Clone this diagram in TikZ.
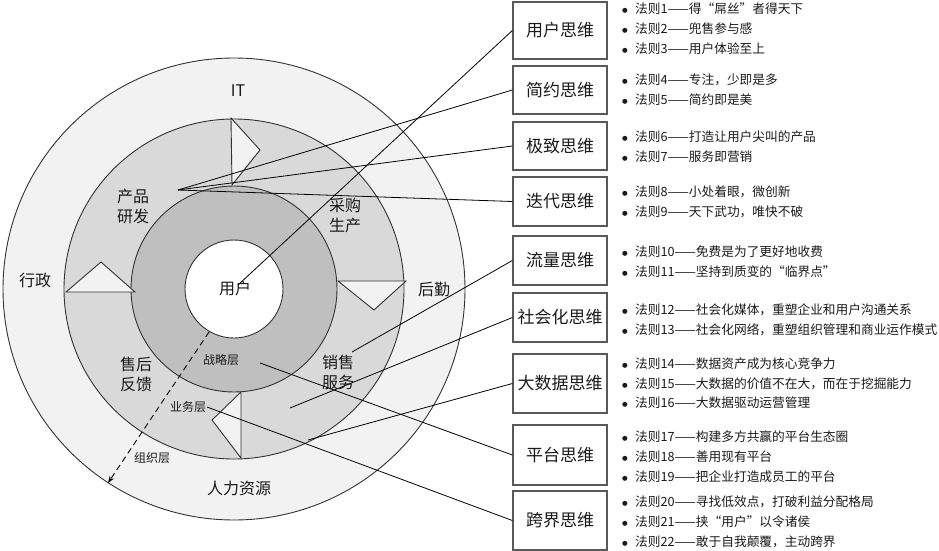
\documentclass[tikz,border=0pt]{standalone}
\usepackage{fontspec}
\setmainfont{Noto Sans CJK SC}
\newfontfamily\bulfont{DejaVu Sans}
\usetikzlibrary{arrows.meta}
\definecolor{ringA}{HTML}{F2F2F2}
\definecolor{ringB}{HTML}{D9D9D9}
\definecolor{ringC}{HTML}{BFBFBF}
\definecolor{edgeC}{HTML}{333333}
\definecolor{boxC}{HTML}{595959}
\definecolor{txtC}{HTML}{1A1A1A}
\tikzset{
  ringedge/.style={draw=edgeC, line width=0.9pt},
  notch/.style={draw=edgeC, line width=0.9pt, fill=ringA, line join=miter},
  biglabel/.style={text=txtC, font=\fontsize{16}{20}\selectfont, align=center, inner sep=0pt},
  smalllabel/.style={text=txtC, font=\fontsize{12}{14}\selectfont, inner sep=0pt},
  thinkbox/.style={draw=boxC, line width=1.3pt, minimum width=94pt, inner sep=0pt, text=txtC, font=\fontsize{17}{20}\selectfont},
  rule/.style={anchor=west, inner sep=0pt, text=txtC, font=\fontsize{12.7}{15}\selectfont},
  link/.style={draw=black, line width=0.8pt}
}
\newcommand{\bul}[1]{\makebox[13pt][l]{\raisebox{1.2pt}{\bulfont\fontsize{6.5}{8}\selectfont ●}}#1}
\begin{document}
\begin{tikzpicture}[x=1pt,y=-1pt]
\useasboundingbox (0,0) rectangle (939,551);
\coordinate (O) at (234,289);
% rings
\path[ringedge, fill=ringA] (O) circle (231);
\path[ringedge, fill=ringB] (O) circle (170);
\path[ringedge, fill=ringC] (O) circle (103);
\path[ringedge, fill=white] (O) circle (49);
% notches of the cycle
\path[notch] (231,118) -- (260,150) -- (232,185) -- cycle;
\path[notch] (338,281) -- (374,310) -- (406,281) -- cycle;
\path[notch] (241,392) -- (212,420) -- (241,458) -- cycle;
\path[notch] (66,292) -- (101,262) -- (135,292) -- cycle;
% dashed arrow
\coordinate (d1) at (209,332);
\coordinate (d2) at (108,483);
\draw[draw=black, line width=0.9pt, dash pattern=on 6pt off 4pt, -{Stealth[length=7pt,width=5pt]}] (d1) -- (d2);
% labels in circle
\node[biglabel] (it) at (238,91) {IT};
\node[biglabel] (cp) at (133,206) {产品\\研发};
\node[biglabel] (cg) at (345,215) {采购\\生产};
\node[biglabel] (xz) at (35,280) {行政};
\node[biglabel] (hq) at (434,289) {后勤};
\node[biglabel] (yh) at (235,288) {用户};
\node[biglabel] (sh) at (136,374) {售后\\反馈};
\node[biglabel] (xs) at (338,372) {销售\\服务};
\node[biglabel] (rl) at (239,488) {人力资源};
\node[smalllabel] (zl) at (221,360) {战略层};
\node[smalllabel] (yw) at (188,407) {业务层};
\node[smalllabel] (zz) at (152,458) {组织层};
% boxes
\node[thinkbox, minimum height=57pt] (b1) at (560,30.5) {用户思维};
\node[thinkbox, minimum height=48pt] (b2) at (560,90) {简约思维};
\node[thinkbox, minimum height=48pt] (b3) at (560,146) {极致思维};
\node[thinkbox, minimum height=49pt] (b4) at (560,201.5) {迭代思维};
\node[thinkbox, minimum height=49pt] (b5) at (560,260.5) {流量思维};
\node[thinkbox, minimum height=49pt] (b6) at (560,317.5) {社会化思维};
\node[thinkbox, minimum height=59pt] (b7) at (560,383.5) {大数据思维};
\node[thinkbox, minimum height=60pt] (b8) at (560,455) {平台思维};
\node[thinkbox, minimum height=59pt] (b9) at (560,520.5) {跨界思维};
% connector endpoints
\coordinate (e1) at (238,285);
\coordinate (e2) at (178,190);
\coordinate (e5) at (352,352);
\coordinate (e6) at (290,408);
\coordinate (e7) at (308,440);
\coordinate (e8) at (260,363);
\coordinate (e9) at (207,407);
\draw[link] (e1) -- (b1.west);
\draw[link] (e2) -- (b2.west);
\draw[link] (e2) -- (b3.west);
\draw[link] (e2) -- (b4.west);
\draw[link] (e5) -- (b5.west);
\draw[link] (e6) -- (b6.west);
\draw[link] (e7) -- (b7.west);
\draw[link] (e8) -- (b8.west);
\draw[link] (e9) -- (b9.west);
% rules
\node[rule] (r1) at (622,9) {\bul{法则1——得“屌丝”者得天下}};
\node[rule] (r2) at (622,29) {\bul{法则2——兜售参与感}};
\node[rule] (r3) at (622,49) {\bul{法则3——用户体验至上}};
\node[rule] (r4) at (622,80) {\bul{法则4——专注，少即是多}};
\node[rule] (r5) at (622,100) {\bul{法则5——简约即是美}};
\node[rule] (r6) at (622,137) {\bul{法则6——打造让用户尖叫的产品}};
\node[rule] (r7) at (622,157) {\bul{法则7——服务即营销}};
\node[rule] (r8) at (622,192) {\bul{法则8——小处着眼，微创新}};
\node[rule] (r9) at (622,212) {\bul{法则9——天下武功，唯快不破}};
\node[rule] (r10) at (622,252) {\bul{法则10——免费是为了更好地收费}};
\node[rule] (r11) at (622,272) {\bul{法则11——坚持到质变的“临界点”}};
\node[rule] (r12) at (622,310) {\bul{法则12——社会化媒体，重塑企业和用户沟通关系}};
\node[rule] (r13) at (622,330) {\bul{法则13——社会化网络，重塑组织管理和商业运作模式}};
\node[rule] (r14) at (622,364) {\bul{法则14——数据资产成为核心竞争力}};
\node[rule] (r15) at (622,384) {\bul{法则15——大数据的价值不在大，而在于挖掘能力}};
\node[rule] (r16) at (622,403) {\bul{法则16——大数据驱动运营管理}};
\node[rule] (r17) at (622,437) {\bul{法则17——构建多方共赢的平台生态圈}};
\node[rule] (r18) at (622,457) {\bul{法则18——善用现有平台}};
\node[rule] (r19) at (622,477) {\bul{法则19——把企业打造成员工的平台}};
\node[rule] (r20) at (622,502) {\bul{法则20——寻找低效点，打破利益分配格局}};
\node[rule] (r21) at (622,522) {\bul{法则21——挟“用户”以令诸侯}};
\node[rule] (r22) at (622,542) {\bul{法则22——敢于自我颠覆，主动跨界}};
\end{tikzpicture}
\end{document}
